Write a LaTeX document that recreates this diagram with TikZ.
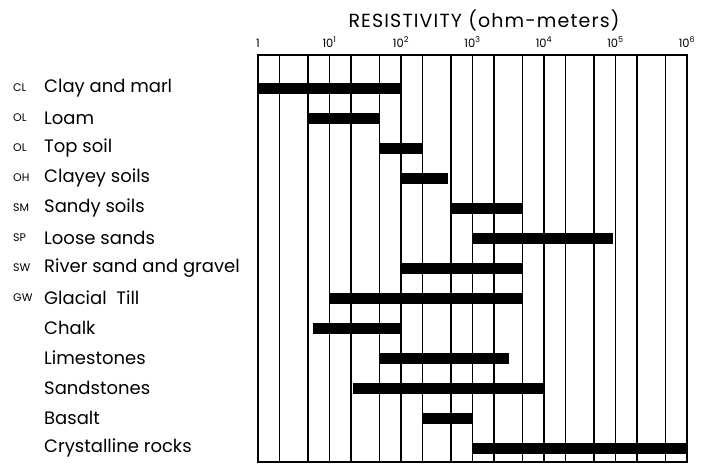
\documentclass[tikz,border=0pt]{standalone}
\usepackage{fontspec}
\setmainfont{Poppins}
\usetikzlibrary{positioning}

\tikzset{
  gridline/.style={line width=1.2pt},
  frame/.style={line width=1.6pt},
  soilbar/.style={fill=black},
  title/.style={font=\fontsize{19}{22}\selectfont\addfontfeatures{LetterSpace=6}},
  tick/.style={font=\fontsize{11.5}{13}\selectfont, anchor=base},
  code/.style={anchor=west, inner sep=0pt, font=\fontsize{11}{13}\selectfont},
  soil/.style={anchor=west, inner sep=0pt, font=\fontsize{18}{21}\selectfont}
}

\begin{document}
\begin{tikzpicture}[x=1pt, y=-1pt]
    \useasboundingbox (0,0) rectangle (715,464);

    % Title
    \node[title] (title) at (484,20) {RESISTIVITY (ohm-meters)};

    % Grid lines at 1, 2 and 5 in each decade
    \foreach \d in {0,...,5} {
        \foreach \m in {1,2,5} {
            \draw[gridline] ({258+71.5*(\d+log10(\m))},55) -- ++(0,407);
        }
    }
    \draw[frame] (258,55) rectangle (687,462);  % Chart frame

    % Decade labels
    \node[tick] (t0) at (258,47) {1};
    \foreach \d in {1,...,6} {
        \node[tick] (t\d) at ({258+71.5*\d},47) {10\textsuperscript{\d}};
    }

    % Rows: code, name, range in decades
    \foreach \code/\name/\lo/\hi [count=\i] in {
        CL/Clay and marl/0/2,
        OL/Loam/0.699/1.699,
        OL/Top soil/1.699/2.301,
        OH/Clayey soils/2/2.66,
        SM/Sandy soils/2.699/3.699,
        SP/Loose sands/3/4.96,
        SW/River sand and gravel/2/3.699,
        GW/Glacial\ \ Till/1.01/3.699,
        /Chalk/0.77/2,
        /Limestones/1.699/3.51,
        /Sandstones/1.33/4.01,
        /Basalt/2.301/3,
        /Crystalline rocks/3/6} {
        \pgfmathsetmacro\rowy{88+30*(\i-1)}
        \node[code] (code\i) at (13,\rowy) {\code};
        \node[soil] (soil\i) at (44,\rowy) {\name};
        \fill[soilbar] ({258+71.5*\lo},\rowy-5.5) rectangle ({258+71.5*\hi},\rowy+5.5);
    }
\end{tikzpicture}
\end{document}
